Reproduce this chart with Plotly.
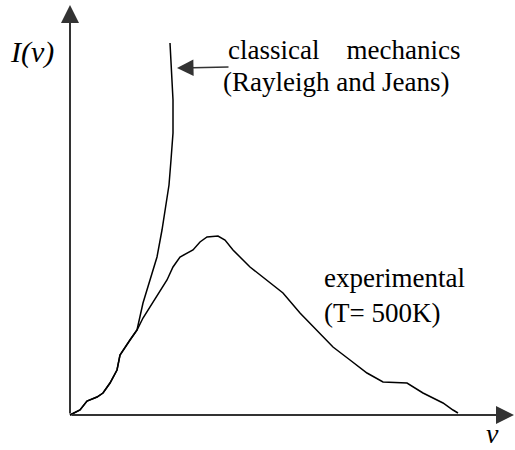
import plotly.graph_objects as go

# Planck curve sketch: classical (Rayleigh-Jeans) vs experimental, arbitrary units
shared_nu = [0.0, 0.2, 1.0, 1.7, 2.7, 3.3, 4.0, 4.7, 5.0, 6.0, 6.7]
shared_i = [0.0, 0.1, 0.5, 1.4, 1.8, 2.2, 3.2, 4.5, 6.0, 7.5, 8.5]

classical_nu = shared_nu + [7.3, 8.0, 8.7, 9.2, 9.6, 9.9, 10.1, 10.3, 10.3, 10.2, 10.1, 10.0]
classical_i = shared_i + [11.2, 13.5, 15.8, 18.5, 21.0, 23.0, 25.5, 28.2, 31.5, 33.5, 35.5, 37.2]

experimental_nu = shared_nu + [7.3, 8.0, 8.8, 9.7, 10.3, 11.0, 12.3, 13.0, 13.7, 14.8, 15.5,
                               16.3, 18.0, 19.7, 21.3, 23.0, 24.7, 26.3, 28.0, 29.7, 31.3,
                               33.7, 35.3, 37.3, 38.3, 38.8]
experimental_i = shared_i + [9.7, 10.8, 12.0, 13.5, 14.8, 15.8, 16.5, 17.3, 17.8, 17.9, 17.5,
                             16.5, 14.8, 13.5, 12.2, 10.2, 8.5, 6.8, 5.5, 4.2, 3.3,
                             3.2, 2.2, 1.2, 0.5, 0.2]

X_END = 44.4
Y_END = 41.0

FONT = "'Liberation Serif', 'Times New Roman', serif"

fig = go.Figure()
fig.add_trace(go.Scatter(x=classical_nu, y=classical_i, mode="lines",
                         line=dict(color="black", width=1.5), hoverinfo="skip"))
fig.add_trace(go.Scatter(x=experimental_nu, y=experimental_i, mode="lines",
                         line=dict(color="black", width=1.5), hoverinfo="skip"))

# axes drawn as arrows
arrow = dict(xref="x", yref="y", axref="x", ayref="y", text="", showarrow=True,
             arrowhead=2, arrowcolor="#333333")
fig.add_annotation(x=X_END, y=0, ax=0, ay=0, arrowwidth=2, arrowsize=1.8, **arrow)
fig.add_annotation(x=0, y=Y_END, ax=0, ay=0, arrowwidth=2, arrowsize=1.8, **arrow)
# pointer to the classical curve
fig.add_annotation(x=10.7, y=34.7, ax=16.0, ay=34.8, arrowwidth=1.5, arrowsize=2.2, **arrow)

labels = [
    ("<i>I(v)</i>", -3.8, 36.3, "center", 30),
    ("<i>v</i>", 42.2, -1.8, "center", 28),
    ("classical    mechanics", 15.6, 36.5, "left", 27),
    ("(Rayleigh and Jeans)", 15.1, 33.3, "left", 27),
    ("experimental", 25.2, 13.7, "left", 27),
    ("(T= 500K)", 25.2, 10.2, "left", 27),
]
for txt, lx, ly, anchor, size in labels:
    fig.add_annotation(x=lx, y=ly, xref="x", yref="y", text=txt, showarrow=False,
                       xanchor=anchor, yanchor="middle",
                       font=dict(family=FONT, size=size, color="black"))

fig.update_layout(
    width=515, height=450,
    margin=dict(l=0, r=0, t=0, b=0),
    paper_bgcolor="white", plot_bgcolor="white",
    showlegend=False,
    xaxis=dict(range=[-7, 44.5], visible=False),
    yaxis=dict(range=[-3.5, 41.5], visible=False),
)

fig.write_html("out.html", config={"displayModeBar": False},
               post_script="document.body.style.margin='0';")
